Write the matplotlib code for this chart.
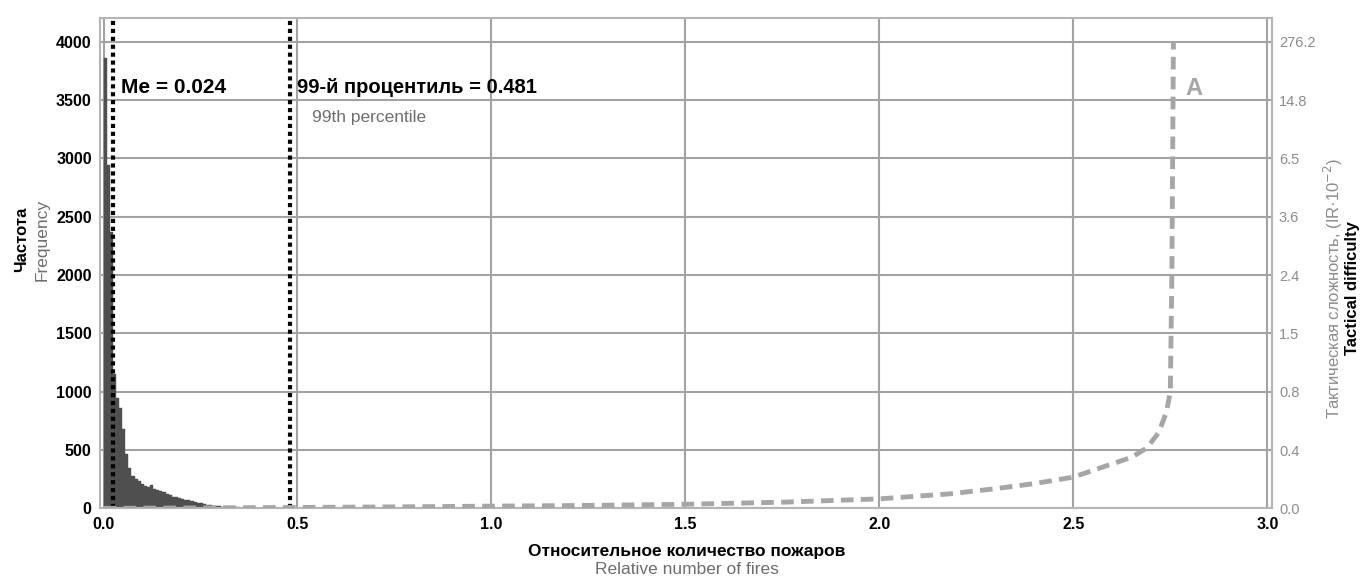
import numpy as np
import matplotlib
matplotlib.use("Agg")
import matplotlib.pyplot as plt

plt.rcParams['font.family'] = ['Liberation Sans', 'DejaVu Sans']

# ---------------- data ----------------
bin_width = 0.008
hist_counts = [3860, 2940, 2365, 1150, 950, 860, 680, 470, 350, 275,
               250, 232, 210, 192, 182, 198, 165, 160, 150, 140,
               122, 112, 100, 95, 86, 80, 75, 68, 62, 55,
               48, 42, 36, 30, 27, 24, 20, 17, 15, 13,
               11, 10, 9, 8, 7, 6, 6, 5, 5, 4,
               4, 3, 3, 3, 2, 2, 2, 2, 1, 1]

median_value = 0.024
p99_value = 0.481

curve_x = [0.0, 0.25, 0.5, 0.75, 1.0, 1.25, 1.5, 1.75, 2.0, 2.18, 2.3, 2.4,
           2.5, 2.6, 2.65, 2.69, 2.72, 2.74, 2.75, 2.752, 2.754, 2.755,
           2.756, 2.757, 2.758]
curve_ir = [0.0, 0.003, 0.006, 0.01, 0.015, 0.02, 0.028, 0.042, 0.065, 0.099,
            0.135, 0.17, 0.214, 0.305, 0.35, 0.415, 0.52, 0.66, 0.8, 1.5,
            2.4, 3.6, 6.5, 14.8, 276.2]

freq_ticks = [0, 500, 1000, 1500, 2000, 2500, 3000, 3500, 4000]
ir_ticks = [0.0, 0.4, 0.8, 1.5, 2.4, 3.6, 6.5, 14.8, 276.2]
x_ticks = [0.0, 0.5, 1.0, 1.5, 2.0, 2.5, 3.0]

# ---------------- figure ----------------
fig = plt.figure(figsize=(13.63, 5.77), dpi=100)
ax = fig.add_axes([0.0734, 0.119, 0.9332 - 0.0734, 0.849])

edges = np.arange(len(hist_counts) + 1) * bin_width
ax.hist(edges[:-1], bins=edges, weights=hist_counts, color='#4f4f4f',
        edgecolor='#4f4f4f', linewidth=0.3, zorder=2)

ax.set_xlim(-0.009, 3.012)
ax.set_ylim(0, 4200)
ax.set_xticks(x_ticks)
ax.set_xticklabels([f"{v:.1f}" for v in x_ticks], fontweight='bold', fontsize=11.5)
ax.set_yticks(freq_ticks)
ax.set_yticklabels([str(v) for v in freq_ticks], fontweight='bold', fontsize=11.5)
ax.tick_params(length=0, pad=6)
ax.grid(True, color='#a3a3a3', linewidth=1.5, zorder=0)
ax.set_axisbelow(True)
for s in ax.spines.values():
    s.set_color('#b5b5b5')
    s.set_linewidth(1.5)

ax.axvline(median_value, color='black', linestyle=(0, (1, 0.9)), linewidth=3, zorder=4)
ax.axvline(p99_value, color='black', linestyle=(0, (1, 0.9)), linewidth=3, zorder=4)

ax.text(0.046, 3611, f"Me = {median_value}", fontsize=15, fontweight='bold',
        va='center', ha='left', zorder=5)
ax.text(0.499, 3611, f"99-й процентиль = {p99_value}", fontsize=14.5,
        fontweight='bold', va='center', ha='left', zorder=5)
ax.text(0.538, 3354, "99th percentile", fontsize=12.5, color='#6e6e6e',
        va='center', ha='left', zorder=5)

# ---------------- right axis (non-linear tactical difficulty) ----------------
tick_idx = np.arange(len(ir_ticks), dtype=float)
top_slope = (ir_ticks[-1] - ir_ticks[-2])


def fwd(v):
    v = np.asarray(v, dtype=float)
    out = np.interp(v, ir_ticks, tick_idx)
    out = np.where(v > ir_ticks[-1], tick_idx[-1] + (v - ir_ticks[-1]) / top_slope, out)
    out = np.where(v < 0, v / (ir_ticks[1] - ir_ticks[0]), out)
    return out


def inv(p):
    p = np.asarray(p, dtype=float)
    out = np.interp(p, tick_idx, ir_ticks)
    out = np.where(p > tick_idx[-1], ir_ticks[-1] + (p - tick_idx[-1]) * top_slope, out)
    out = np.where(p < 0, p * (ir_ticks[1] - ir_ticks[0]), out)
    return out


ax2 = ax.twinx()
ax2.set_yscale('function', functions=(fwd, inv))
ax2.set_ylim(0, float(inv(4200 / 500)))
ax2.set_yticks(ir_ticks)
ax2.set_yticklabels([f"{v:.1f}" for v in ir_ticks], fontsize=10.5, color='#8c8c8c')
ax2.yaxis.set_minor_locator(matplotlib.ticker.NullLocator())
ax2.tick_params(length=0, pad=5)
for s in ax2.spines.values():
    s.set_visible(False)

ax2.plot(curve_x, curve_ir, color='#a6a6a6', linewidth=3.5,
         linestyle=(0, (2.6, 1.5)), zorder=3)
ax2.text(2.79, float(inv(3600 / 500)), "A", fontsize=17, fontweight='bold',
         color='#a6a6a6', va='center', ha='left')

# ---------------- axis titles ----------------
fig.text(0.0155, 0.585, "Частота", rotation=90, fontsize=12, fontweight='bold',
         ha='center', va='center')
fig.text(0.031, 0.585, "Frequency", rotation=90, fontsize=12.5, color='#6e6e6e',
         ha='center', va='center')
fig.text(0.504, 0.045, "Относительное количество пожаров", fontsize=12.5,
         fontweight='bold', ha='center', va='center')
fig.text(0.504, 0.013, "Relative number of fires", fontsize=12.5, color='#6e6e6e',
         ha='center', va='center')
fig.text(0.978, 0.5, "Тактическая сложность, (IR·10$^{-2}$)", rotation=90,
         fontsize=12, color='#8c8c8c', ha='center', va='center')
fig.text(0.992, 0.5, "Tactical difficulty", rotation=90, fontsize=12,
         fontweight='bold', ha='center', va='center')

fig.savefig("out.png", dpi=100)
